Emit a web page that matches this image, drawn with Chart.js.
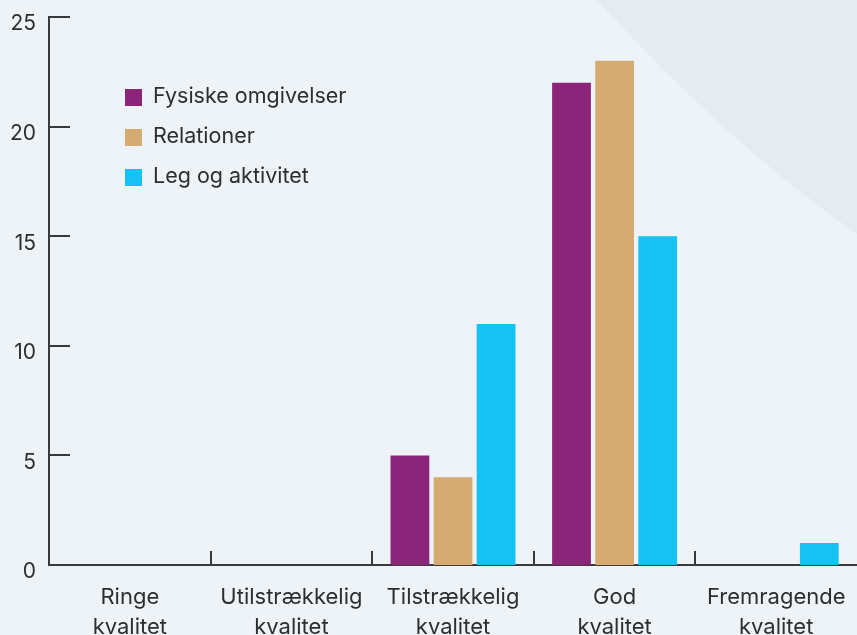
<!DOCTYPE html>
<html>
<head>
<meta charset="utf-8">
<script src="https://cdn.jsdelivr.net/npm/chart.js@4"></script>
<style>
  html, body { margin: 0; padding: 0; background: #eef3f7; overflow: hidden; }
  #wrap { width: 857px; height: 635px; position: relative; }
</style>
</head>
<body>
<div id="wrap"><canvas id="kvalitetChart"></canvas></div>
<script>
const categories = [
    ["Ringe", "kvalitet"],
    ["Utilstrækkelig", "kvalitet"],
    ["Tilstrækkelig", "kvalitet"],
    ["God", "kvalitet"],
    ["Fremragende", "kvalitet"]
];
const seriesNames = ["Fysiske omgivelser", "Relationer", "Leg og aktivitet"];
const fysiskeOmgivelser = [0, 0, 5, 22, 0];
const relationer = [0, 0, 4, 23, 0];
const legOgAktivitet = [0, 0, 11, 15, 1];
const yTicks = [0, 5, 10, 15, 20, 25];

const colors = ["#8a2579", "#d6ab72", "#15c2f3"];
const textColor = "#2e2e2e";
const axisColor = "#3a3a3a";
const fontFamily = "Inter, 'Noto Sans', sans-serif";

// background with the soft diagonal shape in the top right corner
const backgroundPlugin = {
    id: "background",
    beforeDraw(chart) {
        const ctx = chart.ctx;
        const w = chart.width;
        ctx.save();
        ctx.fillStyle = "#eef3f7";
        ctx.fillRect(0, 0, w, chart.height);
        ctx.fillStyle = "#e4ecf2";
        ctx.beginPath();
        ctx.moveTo(597, 0);
        ctx.quadraticCurveTo(727, 143, w, 234);
        ctx.lineTo(w, 0);
        ctx.closePath();
        ctx.fill();
        ctx.restore();
    }
};

// inward tick marks on both axes
const tickPlugin = {
    id: "innerTicks",
    afterDatasetsDraw(chart) {
        const ctx = chart.ctx;
        const area = chart.chartArea;
        const xs = chart.scales.x;
        const ys = chart.scales.y;
        ctx.save();
        ctx.strokeStyle = axisColor;
        ctx.lineWidth = 2;
        ys.ticks.forEach((t, i) => {
            const y = Math.round(ys.getPixelForTick(i));
            ctx.beginPath();
            ctx.moveTo(area.left, y);
            ctx.lineTo(area.left + 21, y);
            ctx.stroke();
        });
        for (let i = 0; i < categories.length; i++) {
            const x = Math.round(xs.getPixelForValue(i - 0.5));
            ctx.beginPath();
            ctx.moveTo(x, area.bottom);
            ctx.lineTo(x, area.bottom - 14);
            ctx.stroke();
        }
        ctx.restore();
    }
};

// legend drawn inside the plot area
const innerLegendPlugin = {
    id: "innerLegend",
    afterDraw(chart) {
        const ctx = chart.ctx;
        ctx.save();
        ctx.font = "21.5px " + fontFamily;
        ctx.textBaseline = "middle";
        chart.data.datasets.forEach((ds, i) => {
            const y = 97 + i * 40;
            ctx.fillStyle = ds.backgroundColor;
            ctx.fillRect(125, y - 8, 17, 17);
            ctx.fillStyle = textColor;
            ctx.fillText(ds.label, 153, y);
        });
        ctx.restore();
    }
};

new Chart(document.getElementById("kvalitetChart").getContext("2d"), {
    type: "bar",
    data: {
        labels: categories,
        datasets: [
            { label: seriesNames[0], data: fysiskeOmgivelser, backgroundColor: colors[0] },
            { label: seriesNames[1], data: relationer, backgroundColor: colors[1] },
            { label: seriesNames[2], data: legOgAktivitet, backgroundColor: colors[2] }
        ]
    },
    options: {
        responsive: true,
        maintainAspectRatio: false,
        animation: false,
        layout: { padding: 0 },
        plugins: {
            legend: { display: false },
            tooltip: { enabled: false }
        },
        scales: {
            x: {
                grid: { display: false, drawTicks: false },
                border: { display: true, color: axisColor, width: 2 },
                ticks: {
                    color: textColor,
                    font: { family: fontFamily, size: 22, lineHeight: 1.37 },
                    padding: 17,
                    maxRotation: 0,
                    autoSkip: false
                },
                afterFit(scale) {
                    scale.height = 70;
                    scale.paddingLeft = 0;
                    scale.paddingRight = 0;
                }
            },
            y: {
                min: 0,
                max: 25,
                afterBuildTicks(scale) { scale.ticks = yTicks.map(v => ({ value: v })); },
                grid: { display: false, drawTicks: false },
                border: { display: true, color: axisColor, width: 2 },
                ticks: {
                    color: textColor,
                    font: { family: fontFamily, size: 21 },
                    padding: 13,
                    labelOffset: 7
                },
                afterFit(scale) {
                    scale.width = 49;
                    scale.paddingTop = 17;
                    scale.paddingBottom = 0;
                }
            }
        }
    },
    plugins: [backgroundPlugin, tickPlugin, innerLegendPlugin]
});
</script>
</body>
</html>
